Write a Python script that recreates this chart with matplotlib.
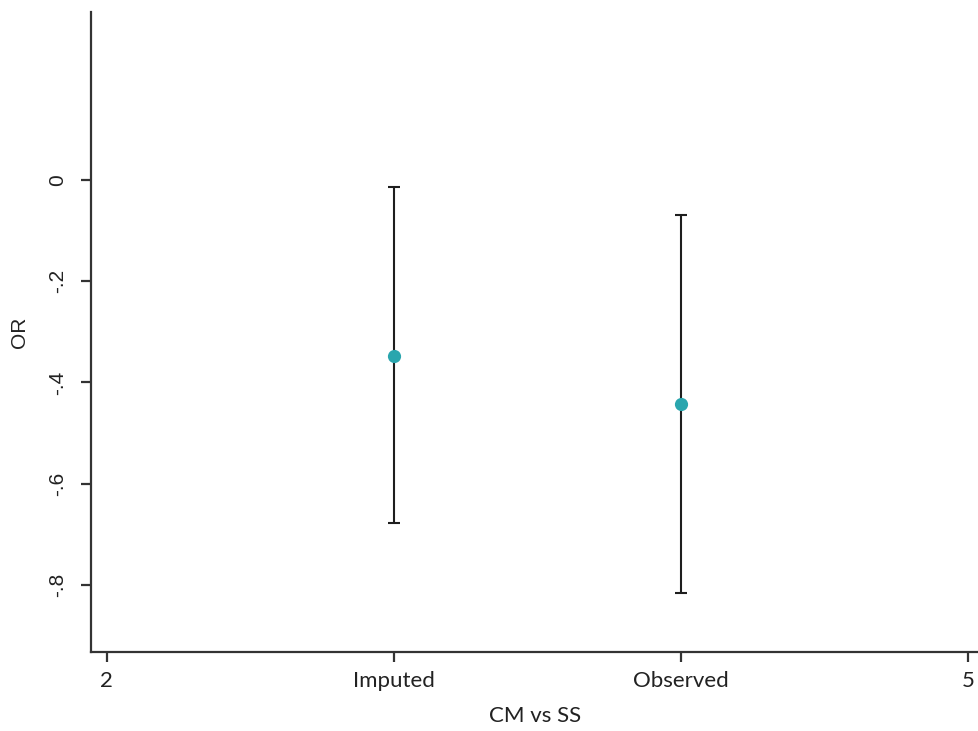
import matplotlib
matplotlib.use("Agg")
import matplotlib.pyplot as plt

# estimates
groups = ["Imputed", "Observed"]
group_x = [3, 4]
estimates = [-0.347, -0.443]
ci_low = [-0.678, -0.816]
ci_high = [-0.013, -0.069]

x_ticks = [2, 3, 4, 5]
x_ticklabels = ["2", "Imputed", "Observed", "5"]
y_ticks = [0, -0.2, -0.4, -0.6, -0.8]
y_ticklabels = ["0", "-.2", "-.4", "-.6", "-.8"]

fig = plt.figure(figsize=(9.79, 7.31), dpi=100)
ax = fig.add_axes([0.0927, 0.1085, 0.9073, 0.8751])

line_col = "#1e1e1e"
for x, est, lo, hi in zip(group_x, estimates, ci_low, ci_high):
    ax.errorbar([x], [est], yerr=[[est - lo], [hi - est]], fmt="none",
                ecolor=line_col, elinewidth=1.5, capsize=4.5, capthick=1.5, zorder=2)
ax.plot(group_x, estimates, "o", color="#2aa6ae", markersize=9.5,
        markeredgewidth=0, zorder=3)

ax.set_xlim(1.944, 5.037)
ax.set_ylim(-0.932, 0.332)

ax.spines["top"].set_visible(False)
ax.spines["right"].set_visible(False)
for s in ["left", "bottom"]:
    ax.spines[s].set_linewidth(1.6)
    ax.spines[s].set_color("#333333")

ax.set_xticks(x_ticks)
ax.set_xticklabels(x_ticklabels, fontfamily="Lato", fontsize=16, color="#222222")
ax.set_yticks(y_ticks)
ax.set_yticklabels(y_ticklabels, fontfamily="Liberation Sans", fontsize=15,
                   color="#222222", rotation=90, va="center")
ax.tick_params(axis="both", length=7, width=1.6, color="#333333")
ax.tick_params(axis="x", pad=7)
ax.tick_params(axis="y", pad=10)

ax.set_xlabel("CM vs SS", fontfamily="Lato", fontsize=16, color="#222222", labelpad=11)
ax.set_ylabel("OR", fontfamily="Liberation Sans", fontsize=15, color="#222222", labelpad=14)

fig.savefig("out.png", dpi=100)
